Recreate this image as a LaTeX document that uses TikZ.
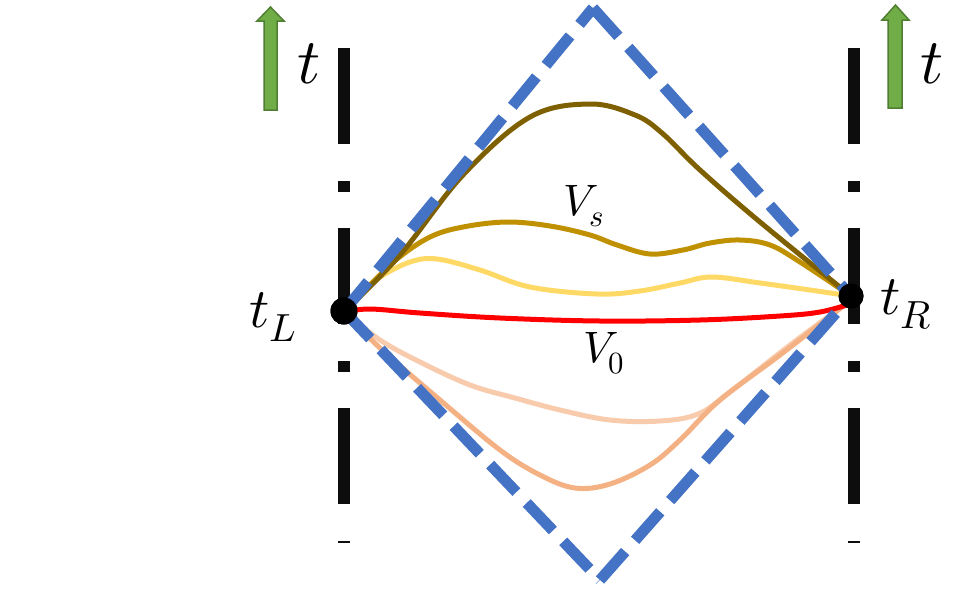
\documentclass[tikz,border=0pt]{standalone}
\usepackage{unicode-math}
\setmathfont{Latin Modern Math}
\begin{document}
\begin{tikzpicture}[x=1pt,y=-1pt,
  axisline/.style={line width=12pt, color=black!95, dash pattern=on 96pt off 37pt on 11pt off 36pt},
  diam/.style={line width=11pt, color=blueD, dash pattern=on 38pt off 15pt},
  curve/.style={line width=5pt, line cap=round, line join=round},
  timearrow/.style={fill=arrowgreen, draw=arrowgreenD, line width=1.5pt},
  dot/.style={circle, fill=black, inner sep=0pt},
  lbl/.style={inner sep=0pt}]
\definecolor{blueD}{HTML}{4472C4}
\definecolor{arrowgreen}{HTML}{70AD47}
\definecolor{arrowgreenD}{HTML}{507E32}
\definecolor{cBrown}{HTML}{7F6000}
\definecolor{cGold}{HTML}{BF9000}
\definecolor{cYellow}{HTML}{FFD966}
\definecolor{cPeachL}{HTML}{F8CBAD}
\definecolor{cPeachD}{HTML}{F4B183}
\useasboundingbox (0,0) rectangle (956,590);
% vertical dash-dot lines
\draw[axisline] (344,48) -- (344,543);
\draw[axisline] (854,48) -- (854,543);
% green time arrows
\draw[timearrow] (264,110) -- (264,21) -- (257,21) -- (270.5,7) -- (284,21) -- (277,21) -- (277,110) -- cycle;
\draw[timearrow] (888,108) -- (888,20) -- (882,20) -- (895.5,5) -- (909,20) -- (902,20) -- (902,108) -- cycle;
\node[lbl, font=\fontsize{64}{64}\selectfont] (tl) at (309,64) {$t$};
\node[lbl, font=\fontsize{64}{64}\selectfont] (tr) at (932,64) {$t$};
% endpoints
\coordinate (top) at (593,8);
\coordinate (bot) at (600,580);
\node[dot, minimum size=27pt] (L) at (344,311) {};
\node[dot, minimum size=25pt] (R) at (851,296) {};
% curves
\draw[curve, cPeachL] plot[smooth, tension=0.6] coordinates {(344,312) (380,340) (420,362) (470,385) (515,398) (560,410) (610,420) (660,421) (698,414) (730,392) (790,345) (851,300)};
\draw[curve, cPeachD] plot[smooth, tension=0.6] coordinates {(344,312) (380,348) (440,400) (500,450) (540,475) (575,488) (610,484) (650,465) (680,440) (720,400) (780,355) (851,300)};
\draw[curve, cYellow] plot[smooth, tension=0.6] coordinates {(344,312) (362,292) (380,277) (410,262) (437,259) (480,270) (530,287) (597,294) (640,291) (680,283) (712,277) (760,283) (810,290) (851,296)};
\draw[curve, cGold] plot[smooth, tension=0.6] coordinates {(344,312) (370,285) (397,259) (430,237) (463,227) (507,222) (550,226) (590,235) (617,245) (650,254) (683,250) (710,243) (740,240) (770,245) (800,262) (851,296)};
\draw[curve, cBrown] plot[smooth, tension=0.6] coordinates {(344,312) (400,255) (463,175) (530,117) (590,104) (635,115) (662,133) (700,170) (760,222) (851,296)};
\draw[curve, red] plot[smooth, tension=0.6] coordinates {(344,312) (370,309) (420,313) (500,318) (600,321) (700,320) (780,316) (820,312) (850,304)};
% diamond
\draw[diam] (L.center) -- (top);
\draw[diam] (top) -- (R.center);
\draw[diam] (L.center) -- (bot);
\draw[diam] (bot) -- (R.center);
% redraw dots on top
\node[dot, minimum size=27pt] at (L) {};
\node[dot, minimum size=25pt] at (R) {};
% labels
\node[lbl, font=\fontsize{56}{56}\selectfont] (tLl) at (273,317) {$t_L$};
\node[lbl, font=\fontsize{56}{56}\selectfont] (tRl) at (906,304) {$t_R$};
\node[lbl, font=\fontsize{44}{44}\selectfont] (vs) at (584,206) {$V_s$};
\node[lbl, font=\fontsize{44}{44}\selectfont] (v0) at (604,353) {$V_0$};
\end{tikzpicture}
\end{document}
